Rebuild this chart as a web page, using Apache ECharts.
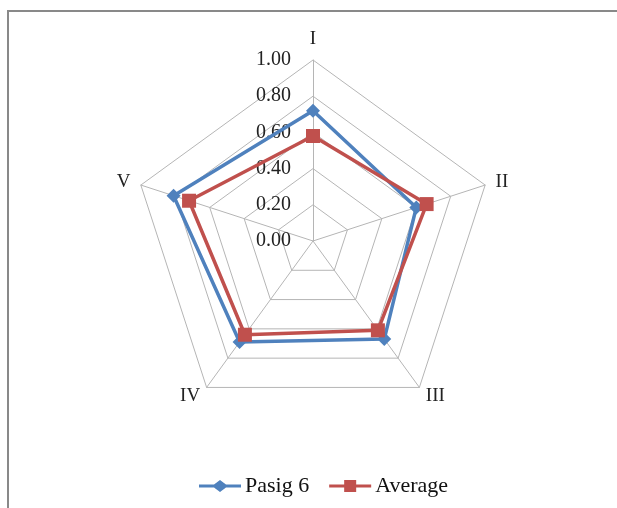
<!DOCTYPE html>
<html><head><meta charset="utf-8">
<script src="https://cdn.jsdelivr.net/npm/echarts@6/dist/echarts.min.js"></script>
<style>
html,body{margin:0;padding:0;background:#fff;overflow:hidden;}
#frame{position:absolute;left:7px;top:10px;width:700px;height:600px;border:2px solid #898989;box-sizing:border-box;}
#c{position:absolute;left:0;top:0;width:617px;height:508px;}
</style></head>
<body>
<div id="frame"></div>
<div id="c"></div>
<script>
const axes = ['I', 'II', 'III', 'IV', 'V'];
const pasig6 = [0.72, 0.60, 0.67, 0.69, 0.81];
const average = [0.58, 0.66, 0.61, 0.64, 0.72];
const tickLabels = ['0.00', '0.20', '0.40', '0.60', '0.80', '1.00'];

// ECharts radar runs counter-clockwise; reorder so axes run clockwise.
const order = [0, 4, 3, 2, 1];
const reorder = arr => order.map(i => arr[i]);

const font = '"Liberation Serif", "Times New Roman", serif';
const chart = echarts.init(document.getElementById('c'), null, {renderer: 'canvas'});
const center = [313, 241];
const radius = 181;
chart.setOption({
  animation: false,
  backgroundColor: 'transparent',
  radar: {
    center: center,
    radius: radius,
    startAngle: 90,
    shape: 'polygon',
    splitNumber: 5,
    indicator: reorder(axes).map(n => ({name: n, min: 0, max: 1})),
    axisName: {color: '#222', fontFamily: font, fontSize: 19},
    nameGap: 11,
    splitLine: {lineStyle: {color: '#b5b5b5', width: 1}},
    splitArea: {show: false},
    axisLine: {lineStyle: {color: '#b5b5b5', width: 1}},
    axisTick: {show: false},
    axisLabel: {show: false}
  },
  polar: {center: center, radius: radius},
  angleAxis: {startAngle: 90, show: false, min: 0, max: 360},
  radiusAxis: {
    min: 0, max: 1, interval: 0.2,
    axisLine: {show: false}, axisTick: {show: false}, splitLine: {show: false},
    axisLabel: {
      show: true, margin: 22, color: '#222', fontFamily: font, fontSize: 20,
      formatter: (v) => tickLabels[Math.round(v / 0.2)]
    }
  },
  legend: {
    bottom: 6,
    left: 194,
    itemWidth: 42,
    itemHeight: 12,
    itemGap: 20,
    textStyle: {fontFamily: font, fontSize: 22, color: '#111', padding: [0, 0, 0, -1]},
    data: [
      {name: 'Pasig 6', icon: 'path://M0,4.5 L15,4.5 L21,0 L27,4.5 L42,4.5 L42,7.5 L27,7.5 L21,12 L15,7.5 L0,7.5 Z'},
      {name: 'Average', icon: 'path://M0,4.5 L15,4.5 L15,0 L27,0 L27,4.5 L42,4.5 L42,7.5 L27,7.5 L27,12 L15,12 L15,7.5 L0,7.5 Z'}
    ]
  },
  series: [{
    type: 'radar',
    z: 3,
    data: [
      {name: 'Pasig 6', value: reorder(pasig6), symbol: 'diamond', symbolSize: 14,
        lineStyle: {color: '#4F81BD', width: 3.5}, itemStyle: {color: '#4F81BD'}},
      {name: 'Average', value: reorder(average), symbol: 'rect', symbolSize: 14,
        lineStyle: {color: '#C0504D', width: 3.5}, itemStyle: {color: '#C0504D'}}
    ]
  }]
});
</script>
</body></html>
